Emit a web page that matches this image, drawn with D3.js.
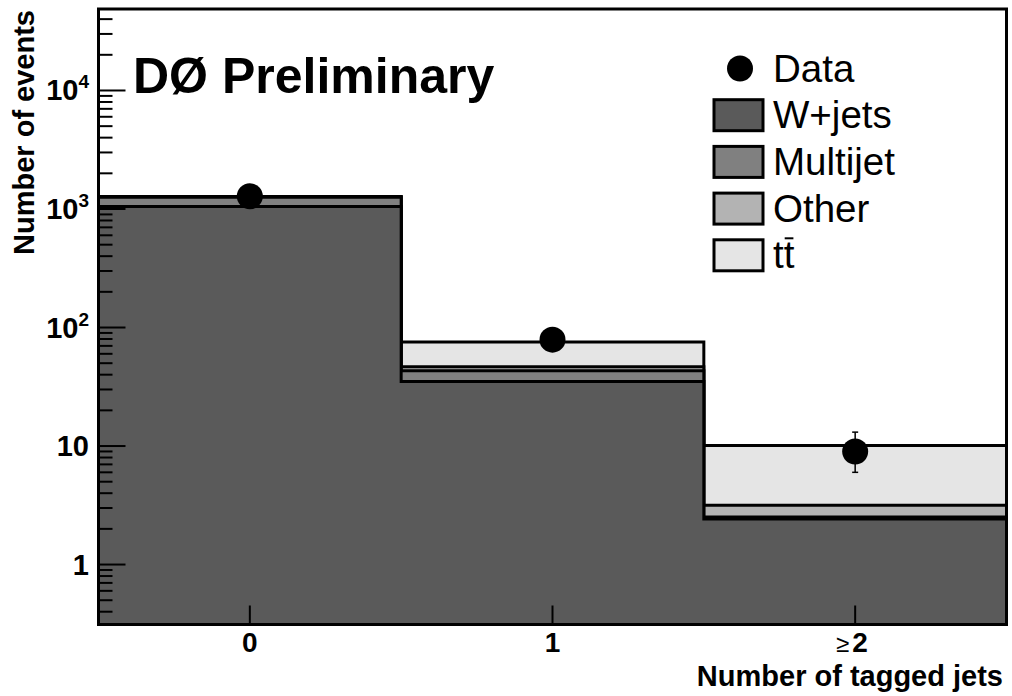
<!DOCTYPE html>
<html>
<head>
<meta charset="utf-8">
<script src="https://cdn.jsdelivr.net/npm/d3@7"></script>
<style>
  body { margin: 0; background: #fff; }
  text { font-family: "Liberation Sans", Arial, Helvetica, sans-serif; }
</style>
</head>
<body>
<svg id="chart" width="1012" height="696"></svg>
<script>
// bins: number of b-tagged jets
var binLabels = ["0", "1", "2"];
var binCenters = [0, 1, 2];

// stacked backgrounds, bottom to top
var wjets    = [1050, 35.0, 2.42];
var multijet = [205, 8.2, 0.10];
var other    = [14, 3.5, 0.64];
var ttbar    = [6, 28.8, 6.94];

// data points, asymmetric errors
var dataVals = [1280, 79, 9];
var dataErrLo = [35, 9, 3.0];
var dataErrHi = [36, 10, 4.1];

var legendNames = ["W+jets", "Multijet", "Other", "tt"];
var fillColors = ["#5a5a5a", "#808080", "#b3b3b3", "#e5e5e5"];

// frame
var L = 98.5, R = 1006.5, T = 9, B = 624.5;

var svg = d3.select("#chart");

var x = d3.scaleLinear().domain([-0.5, 2.5]).range([L, R]);
var y = d3.scaleLog().domain([0.312, 48700]).range([B, T]);

// cumulative levels
var series = [wjets, multijet, other, ttbar];
var cum = [];
var run = [0, 0, 0];
series.forEach(function(s) {
	run = run.map(function(v, i) { return v + s[i]; });
	cum.push(run.slice());
});

function stepPts(levels) {
	var pts = [[x(-0.5), B]];
	levels.forEach(function(v, i) {
		pts.push([x(i - 0.5), y(v)]);
		pts.push([x(i + 0.5), y(v)]);
	});
	pts.push([x(2.5), B]);
	return pts;
}

svg.append("clipPath").attr("id", "frameClip")
	.append("rect").attr("x", L).attr("y", T).attr("width", R - L).attr("height", B - T);

var plot = svg.append("g").attr("clip-path", "url(#frameClip)");

// draw total first, then each lower level on top of it
for (var k = cum.length - 1; k >= 0; k--) {
	plot.append("path")
		.attr("d", d3.line()(stepPts(cum[k])) + "Z")
		.attr("fill", fillColors[k])
		.attr("stroke", "#000")
		.attr("stroke-width", 3)
		.attr("stroke-linejoin", "miter");
}

// y ticks (inside the frame)
var axisG = svg.append("g");
y.ticks().forEach(function(t) {
	var lg = Math.log10(t);
	var major = Math.abs(lg - Math.round(lg)) < 1e-9;
	axisG.append("line")
		.attr("x1", L).attr("x2", L + (major ? 27 : 14))
		.attr("y1", y(t)).attr("y2", y(t))
		.attr("stroke", "#000").attr("stroke-width", 2);
	if (major) {
		var e = Math.round(lg);
		var lab = axisG.append("text")
			.attr("x", 89).attr("y", y(t) + 10)
			.attr("text-anchor", "end")
			.attr("font-size", 29).attr("font-weight", "bold");
		if (e <= 1) {
			lab.text(t);
		} else {
			lab.append("tspan").text("10");
			lab.append("tspan").attr("dy", -12).attr("font-size", 19).text(e);
		}
	}
});

// x ticks
var labY = 652;
binCenters.forEach(function(c, i) {
	axisG.append("line")
		.attr("x1", x(c)).attr("x2", x(c))
		.attr("y1", B).attr("y2", B - 19)
		.attr("stroke", "#000").attr("stroke-width", 2);
	if (i == 2) {
		// smaller, regular-weight sign before the bold digit
		axisG.append("text")
			.attr("x", x(c) - 6).attr("y", labY)
			.attr("text-anchor", "end")
			.attr("font-size", 24)
			.text("\u2265");
		axisG.append("text")
			.attr("x", x(c) - 3).attr("y", labY)
			.attr("font-size", 28).attr("font-weight", "bold")
			.text(binLabels[i]);
	} else {
		axisG.append("text")
			.attr("x", x(c)).attr("y", labY)
			.attr("text-anchor", "middle")
			.attr("font-size", 28).attr("font-weight", "bold")
			.text(binLabels[i]);
	}
});

// frame
svg.append("rect")
	.attr("x", L).attr("y", T).attr("width", R - L).attr("height", B - T)
	.attr("fill", "none").attr("stroke", "#000").attr("stroke-width", 3);

// data points
var dg = svg.append("g");
dataVals.forEach(function(v, i) {
	var cx = x(binCenters[i]);
	var y1 = y(v + dataErrHi[i]), y2 = y(v - dataErrLo[i]);
	dg.append("line").attr("x1", cx).attr("x2", cx).attr("y1", y1).attr("y2", y2)
		.attr("stroke", "#000").attr("stroke-width", 1.5);
	[y1, y2].forEach(function(yy) {
		dg.append("line").attr("x1", cx - 3).attr("x2", cx + 3).attr("y1", yy).attr("y2", yy)
			.attr("stroke", "#000").attr("stroke-width", 1.5);
	});
	dg.append("circle").attr("cx", cx).attr("cy", y(v)).attr("r", 13).attr("fill", "#000");
});

// axis titles
svg.append("text")
	.attr("transform", "translate(34,10) rotate(-90)")
	.attr("text-anchor", "end")
	.attr("font-size", 29).attr("font-weight", "bold")
	.text("Number of events");

svg.append("text")
	.attr("x", 1003).attr("y", 686)
	.attr("text-anchor", "end")
	.attr("font-size", 29).attr("font-weight", "bold")
	.text("Number of tagged jets");

// label
svg.append("text")
	.attr("x", 133).attr("y", 93)
	.attr("font-size", 50).attr("font-weight", "bold")
	.text("D\u00d8 Preliminary");

// legend
var lg = svg.append("g");
var rowY = function(r) { return 68.5 + r * 46.7; };
lg.append("circle").attr("cx", 740).attr("cy", rowY(0)).attr("r", 13).attr("fill", "#000");
lg.append("text").attr("x", 773).attr("y", rowY(0) + 13).attr("font-size", 38.5).text("Data");
legendNames.forEach(function(n, i) {
	var cy = rowY(i + 1);
	lg.append("rect")
		.attr("x", 714).attr("y", cy - 15.5).attr("width", 49).attr("height", 31)
		.attr("fill", fillColors[i]).attr("stroke", "#000").attr("stroke-width", 3);
	var t = lg.append("text").attr("x", 773).attr("y", cy + 13).attr("font-size", 38.5).text(n);
	if (n == "tt") {
		// bar over the second t
		var node = t.node();
		var sx = node.getStartPositionOfChar(1).x;
		var w = node.getSubStringLength(1, 1);
		lg.append("line")
			.attr("x1", sx + 1).attr("x2", sx + w - 1)
			.attr("y1", cy - 17).attr("y2", cy - 17)
			.attr("stroke", "#000").attr("stroke-width", 2);
	}
});
</script>
</body>
</html>
